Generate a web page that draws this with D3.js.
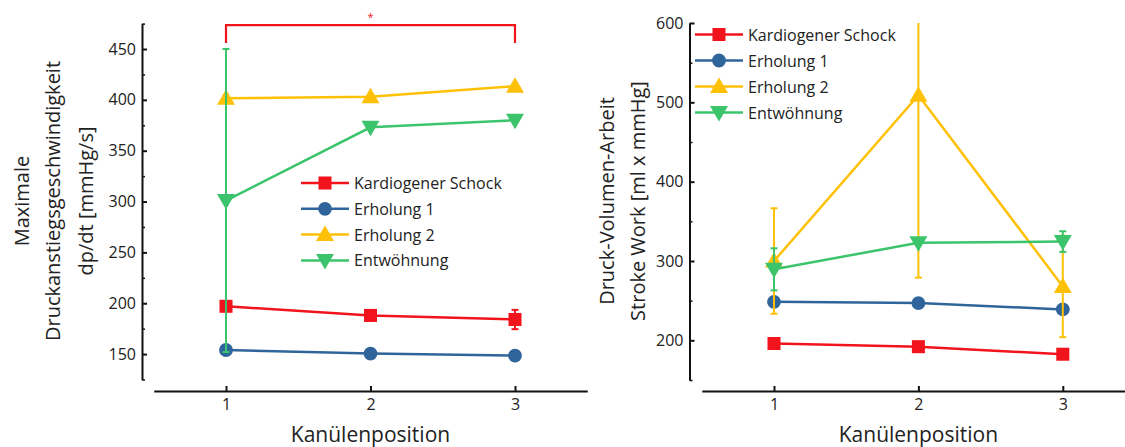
<!DOCTYPE html>
<html>
<head>
<meta charset="utf-8">
<script src="https://cdn.jsdelivr.net/npm/d3@7"></script>
<style>
  body { margin: 0; background: #fff; }
  text { font-family: "Open Sans", sans-serif; fill: #222; }
</style>
</head>
<body>
<script>
// x categories (Kanülenposition)
var positions = [1, 2, 3];
var seriesNames = ["Kardiogener Schock", "Erholung 1", "Erholung 2", "Entwöhnung"];
var seriesColors = ["#f2141c", "#30659c", "#ffc107", "#3cc46c"];
var seriesSymbols = ["square", "circle", "triangleUp", "triangleDown"];

// left panel: maximale Druckanstiegsgeschwindigkeit
var dpdtMean = [
  [197, 188, 184],
  [154, 150.5, 148.5],
  [401.5, 403, 413.5],
  [301, 373, 380]
];
var dpdtErr = [
  [0, 0, 9.5],
  [0, 0, 0],
  [0, 0, 0],
  [149, 0, 0]
];
var dpdtTicks = [150, 200, 250, 300, 350, 400, 450];

// right panel: Stroke Work
var swMean = [
  [196, 192, 182.5],
  [248.5, 247, 239],
  [300, 509, 268],
  [289.5, 323, 324.5]
];
var swErr = [
  [0, 0, 0],
  [0, 0, 0],
  [66.5, 230, 64],
  [26.5, 0, 13]
];
var swTicks = [200, 300, 400, 500, 600];

var W = 1125, H = 447;
var svg = d3.select("body").append("svg").attr("width", W).attr("height", H);

function symbolPath(kind) {
  if (kind == "square") return d3.symbol().type(d3.symbolSquare).size(170)();
  if (kind == "circle") return d3.symbol().type(d3.symbolCircle).size(150)();
  if (kind == "triangleUp") return "M0,-9L9,6.5L-9,6.5Z";
  return "M0,9L9,-6.5L-9,-6.5Z";
}

function drawPanel(cfg) {
  var x = d3.scaleLinear().domain([0.5, 3.5]).range(cfg.xRange);
  var y = d3.scaleLinear().domain(cfg.yDomain).range([cfg.yBottom, cfg.yTop]);
  var g = svg.append("g");

  // x axis
  var xa = g.append("g")
    .attr("transform", "translate(0," + cfg.xAxisY + ")")
    .call(d3.axisBottom(x).tickValues(positions).tickFormat(d3.format("d"))
      .tickSizeInner(-5).tickSizeOuter(0).tickPadding(8));
  xa.select(".domain").attr("stroke", "#111").attr("stroke-width", 2);
  xa.selectAll(".tick line").attr("stroke", "#111").attr("stroke-width", 2);
  xa.selectAll(".tick text").style("font-size", "16px").attr("fill", "#222");

  // y axis (minor ticks first)
  var minor = d3.range(cfg.yDomain[0], cfg.yDomain[1] + 0.1, cfg.minorStep)
    .filter(v => cfg.yTicks.indexOf(v) < 0);
  var ym = g.append("g")
    .attr("transform", "translate(" + cfg.yAxisX + ",0)")
    .call(d3.axisLeft(y).tickValues(minor).tickFormat("").tickSizeInner(-3).tickSizeOuter(0));
  ym.select(".domain").remove();
  ym.selectAll(".tick line").attr("stroke", "#111").attr("stroke-width", 1.5);

  var ya = g.append("g")
    .attr("transform", "translate(" + cfg.yAxisX + ",0)")
    .call(d3.axisLeft(y).tickValues(cfg.yTicks).tickSizeInner(-5).tickSizeOuter(0).tickPadding(6));
  ya.select(".domain").attr("stroke", "#111").attr("stroke-width", 2);
  ya.selectAll(".tick line").attr("stroke", "#111").attr("stroke-width", 2);
  ya.selectAll(".tick text").style("font-size", "16px").attr("fill", "#222");

  // axis titles
  g.append("text")
    .attr("x", x(2)).attr("y", 442)
    .attr("text-anchor", "middle")
    .style("font-size", "21px")
    .text("Kanülenposition");

  cfg.yTitle.forEach(function(line, i) {
    g.append("text")
      .attr("text-anchor", "middle")
      .attr("dominant-baseline", "central")
      .attr("transform", "translate(" + cfg.yTitleX[i] + ",201) rotate(-90)")
      .style("font-size", "20px")
      .text(line);
  });

  // series
  var top = y.range()[1];
  seriesNames.forEach(function(name, s) {
    var col = seriesColors[s];
    var pts = positions.map((p, i) => ({ p: p, v: cfg.mean[s][i], e: cfg.err[s][i] }));
    var sg = g.append("g");
    sg.append("path")
      .datum(pts)
      .attr("fill", "none")
      .attr("stroke", col)
      .attr("stroke-width", 2.5)
      .attr("d", d3.line().x(d => x(d.p)).y(d => y(d.v)));

    pts.filter(d => d.e > 0).forEach(function(d) {
      var y1 = Math.max(y(d.v + d.e), top);
      var y2 = y(d.v - d.e);
      sg.append("line")
        .attr("x1", x(d.p)).attr("x2", x(d.p))
        .attr("y1", y1).attr("y2", y2)
        .attr("stroke", col).attr("stroke-width", 2);
      [[y1, y(d.v + d.e) >= top], [y2, true]].forEach(function(c) {
        if (!c[1]) return;
        sg.append("line")
          .attr("x1", x(d.p) - 3.5).attr("x2", x(d.p) + 3.5)
          .attr("y1", c[0]).attr("y2", c[0])
          .attr("stroke", col).attr("stroke-width", 2);
      });
    });

    sg.selectAll("path.marker")
      .data(pts)
      .enter()
      .append("path")
      .attr("class", "marker")
      .attr("d", symbolPath(seriesSymbols[s]))
      .attr("transform", d => "translate(" + x(d.p) + "," + y(d.v) + ")")
      .attr("fill", col);
  });

  // legend
  seriesNames.forEach(function(name, s) {
    var ly = cfg.legend.y + s * cfg.legend.step;
    var lx = cfg.legend.x;
    svg.append("line")
      .attr("x1", lx).attr("x2", lx + 48)
      .attr("y1", ly).attr("y2", ly)
      .attr("stroke", seriesColors[s]).attr("stroke-width", 2.5);
    svg.append("path")
      .attr("d", symbolPath(seriesSymbols[s]))
      .attr("transform", "translate(" + (lx + 24) + "," + ly + ")")
      .attr("fill", seriesColors[s]);
    svg.append("text")
      .attr("x", lx + 53).attr("y", ly)
      .attr("dominant-baseline", "central")
      .style("font-size", "16px")
      .text(name);
  });

  return { x: x, y: y };
}

var left = drawPanel({
  xRange: [153.75, 587.25], xAxisY: 391,
  yDomain: [125, 475], yTop: 23.6, yBottom: 379.5, yAxisX: 142,
  yTicks: dpdtTicks, minorStep: 25,
  mean: dpdtMean, err: dpdtErr,
  yTitle: ["Maximale", "Druckanstiegsgeschwindigkeit", "dp/dt [mmHg/s]"],
  yTitleX: [21, 52, 85],
  legend: { x: 301, y: 183, step: 25.8 }
});

var right = drawPanel({
  xRange: [701.8, 1135], xAxisY: 391,
  yDomain: [150, 600], yTop: 23, yBottom: 380, yAxisX: 689.5,
  yTicks: swTicks, minorStep: 50,
  mean: swMean, err: swErr,
  yTitle: ["Druck-Volumen-Arbeit", "Stroke Work [ml x mmHg]"],
  yTitleX: [606, 637],
  legend: { x: 695, y: 34.5, step: 26 }
});

// significance bracket between position 1 and 3 (left panel)
var bx = left.x, by = left.y;
svg.append("path")
  .attr("d", "M" + bx(1) + "," + by(456) + "V" + by(473.5) + "H" + bx(3) + "V" + by(456))
  .attr("fill", "none")
  .attr("stroke", "#f2141c")
  .attr("stroke-width", 2.2);
svg.append("text")
  .attr("x", bx(2)).attr("y", 21)
  .attr("text-anchor", "middle")
  .style("font-size", "11px")
  .style("fill", "#f2141c")
  .text("*");
</script>
</body>
</html>
